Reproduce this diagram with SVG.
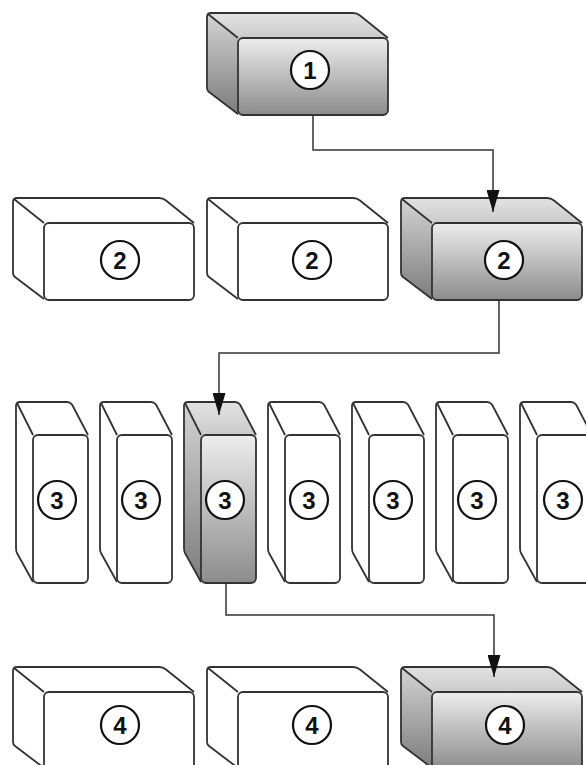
<svg xmlns="http://www.w3.org/2000/svg" width="586" height="765" viewBox="0 0 586 765">
<defs>
<linearGradient id="gFront" x1="0" y1="0" x2="0" y2="1"><stop offset="0" stop-color="#ededed"/><stop offset="1" stop-color="#8c8c8c"/></linearGradient>
<linearGradient id="gSide" x1="0" y1="0" x2="0" y2="1"><stop offset="0" stop-color="#d4d4d4"/><stop offset="1" stop-color="#7c7c7c"/></linearGradient>
<linearGradient id="gTop" x1="0" y1="0" x2="0" y2="1"><stop offset="0" stop-color="#e2e2e2"/><stop offset="1" stop-color="#cbcbcb"/></linearGradient>
<marker id="arr" viewBox="0 0 22 13" refX="22" refY="6.5" markerWidth="22" markerHeight="13" markerUnits="userSpaceOnUse" orient="auto"><path d="M0,0 L22,6.5 L0,13 Z" fill="#111"/></marker>
</defs>
<style>
.top,.side,.front{fill:#fff;stroke:none}
.front{stroke:#333;stroke-width:1.8}
.hl .top{fill:url(#gTop)}
.hl .side{fill:url(#gSide)}
.hl .front{fill:url(#gFront)}
.edge{fill:none;stroke:#333;stroke-width:1.8;stroke-linejoin:round}
.num{fill:#fff;stroke:#111;stroke-width:2.2}
.lbl{font-family:"Liberation Sans Narrow","Liberation Sans",Arial,sans-serif;font-weight:bold;font-size:24px;fill:#111;text-anchor:middle}
.conn{fill:none;stroke:#333;stroke-width:1.5;marker-end:url(#arr)}
</style>

<!-- Row 1 -->
<g id="n1" class="hl" transform="translate(207,13)">
<path class="top" d="M0,0 H150 L181,25 H31 Z"/><path class="side" d="M0,0 L31,25 V102 L0,77 Z"/>
<rect class="front" x="31" y="25" width="150" height="77" rx="5"/>
<path class="edge" d="M31,101 L2,79 Q0,77.5 0,75 V4 Q0,0 4,0 H146 Q150,0 153,2.5 L181,25 M1,1 L31,25"/>
<circle class="num" cx="103" cy="57" r="19"/><text class="lbl" x="103" y="65.5">1</text>
</g>

<!-- Row 2 -->
<g id="n2a" transform="translate(13,198)">
<path class="top" d="M0,0 H150 L181,25 H31 Z"/><path class="side" d="M0,0 L31,25 V102 L0,77 Z"/>
<rect class="front" x="31" y="25" width="150" height="77" rx="5"/>
<path class="edge" d="M31,101 L2,79 Q0,77.5 0,75 V4 Q0,0 4,0 H146 Q150,0 153,2.5 L181,25 M1,1 L31,25"/>
<circle class="num" cx="107" cy="62" r="19"/><text class="lbl" x="107" y="70.5">2</text>
</g>
<g id="n2b" transform="translate(207,198)">
<path class="top" d="M0,0 H150 L181,25 H31 Z"/><path class="side" d="M0,0 L31,25 V102 L0,77 Z"/>
<rect class="front" x="31" y="25" width="150" height="77" rx="5"/>
<path class="edge" d="M31,101 L2,79 Q0,77.5 0,75 V4 Q0,0 4,0 H146 Q150,0 153,2.5 L181,25 M1,1 L31,25"/>
<circle class="num" cx="105" cy="62" r="19"/><text class="lbl" x="105" y="70.5">2</text>
</g>
<g id="n2c" class="hl" transform="translate(401,198)">
<path class="top" d="M0,0 H150 L181,25 H31 Z"/><path class="side" d="M0,0 L31,25 V102 L0,77 Z"/>
<rect class="front" x="31" y="25" width="150" height="77" rx="5"/>
<path class="edge" d="M31,101 L2,79 Q0,77.5 0,75 V4 Q0,0 4,0 H146 Q150,0 153,2.5 L181,25 M1,1 L31,25"/>
<circle class="num" cx="103" cy="62" r="19"/><text class="lbl" x="103" y="70.5">2</text>
</g>

<!-- Row 3 -->
<g id="n3a" transform="translate(16,402)">
<path class="top" d="M0,0 H55 L72,33 H17 Z"/><path class="side" d="M0,0 L17,33 V181 L0,148 Z"/>
<rect class="front" x="17" y="33" width="55" height="148" rx="5"/>
<path class="edge" d="M17,180 L1,151 Q0,149 0,146 V4 Q0,0 4,0 H51 Q54,0 56,2.5 L72,33 M1,1 L17,33"/>
<circle class="num" cx="41" cy="98" r="19"/><text class="lbl" x="41" y="106.5">3</text>
</g>
<g id="n3b" transform="translate(100,402)">
<path class="top" d="M0,0 H55 L72,33 H17 Z"/><path class="side" d="M0,0 L17,33 V181 L0,148 Z"/>
<rect class="front" x="17" y="33" width="55" height="148" rx="5"/>
<path class="edge" d="M17,180 L1,151 Q0,149 0,146 V4 Q0,0 4,0 H51 Q54,0 56,2.5 L72,33 M1,1 L17,33"/>
<circle class="num" cx="41" cy="98" r="19"/><text class="lbl" x="41" y="106.5">3</text>
</g>
<g id="n3c" class="hl" transform="translate(184,402)">
<path class="top" d="M0,0 H55 L72,33 H17 Z"/><path class="side" d="M0,0 L17,33 V181 L0,148 Z"/>
<rect class="front" x="17" y="33" width="55" height="148" rx="5"/>
<path class="edge" d="M17,180 L1,151 Q0,149 0,146 V4 Q0,0 4,0 H51 Q54,0 56,2.5 L72,33 M1,1 L17,33"/>
<circle class="num" cx="41" cy="98" r="19"/><text class="lbl" x="41" y="106.5">3</text>
</g>
<g id="n3d" transform="translate(268,402)">
<path class="top" d="M0,0 H55 L72,33 H17 Z"/><path class="side" d="M0,0 L17,33 V181 L0,148 Z"/>
<rect class="front" x="17" y="33" width="55" height="148" rx="5"/>
<path class="edge" d="M17,180 L1,151 Q0,149 0,146 V4 Q0,0 4,0 H51 Q54,0 56,2.5 L72,33 M1,1 L17,33"/>
<circle class="num" cx="41" cy="98" r="19"/><text class="lbl" x="41" y="106.5">3</text>
</g>
<g id="n3e" transform="translate(352,402)">
<path class="top" d="M0,0 H55 L72,33 H17 Z"/><path class="side" d="M0,0 L17,33 V181 L0,148 Z"/>
<rect class="front" x="17" y="33" width="55" height="148" rx="5"/>
<path class="edge" d="M17,180 L1,151 Q0,149 0,146 V4 Q0,0 4,0 H51 Q54,0 56,2.5 L72,33 M1,1 L17,33"/>
<circle class="num" cx="41" cy="98" r="19"/><text class="lbl" x="41" y="106.5">3</text>
</g>
<g id="n3f" transform="translate(436,402)">
<path class="top" d="M0,0 H55 L72,33 H17 Z"/><path class="side" d="M0,0 L17,33 V181 L0,148 Z"/>
<rect class="front" x="17" y="33" width="55" height="148" rx="5"/>
<path class="edge" d="M17,180 L1,151 Q0,149 0,146 V4 Q0,0 4,0 H51 Q54,0 56,2.5 L72,33 M1,1 L17,33"/>
<circle class="num" cx="41" cy="98" r="19"/><text class="lbl" x="41" y="106.5">3</text>
</g>
<g id="n3g" transform="translate(520,402)">
<path class="top" d="M0,0 H55 L72,33 H17 Z"/><path class="side" d="M0,0 L17,33 V181 L0,148 Z"/>
<rect class="front" x="17" y="33" width="55" height="148" rx="5"/>
<path class="edge" d="M17,180 L1,151 Q0,149 0,146 V4 Q0,0 4,0 H51 Q54,0 56,2.5 L72,33 M1,1 L17,33"/>
<circle class="num" cx="43" cy="98" r="19"/><text class="lbl" x="43" y="106.5">3</text>
</g>

<!-- Row 4 -->
<g id="n4a" transform="translate(13,667)">
<path class="top" d="M0,0 H150 L181,25 H31 Z"/><path class="side" d="M0,0 L31,25 V102 L0,77 Z"/>
<rect class="front" x="31" y="25" width="150" height="77" rx="5"/>
<path class="edge" d="M31,101 L2,79 Q0,77.5 0,75 V4 Q0,0 4,0 H146 Q150,0 153,2.5 L181,25 M1,1 L31,25"/>
<circle class="num" cx="107" cy="58" r="19"/><text class="lbl" x="107" y="66.5">4</text>
</g>
<g id="n4b" transform="translate(207,667)">
<path class="top" d="M0,0 H150 L181,25 H31 Z"/><path class="side" d="M0,0 L31,25 V102 L0,77 Z"/>
<rect class="front" x="31" y="25" width="150" height="77" rx="5"/>
<path class="edge" d="M31,101 L2,79 Q0,77.5 0,75 V4 Q0,0 4,0 H146 Q150,0 153,2.5 L181,25 M1,1 L31,25"/>
<circle class="num" cx="105" cy="58" r="19"/><text class="lbl" x="105" y="66.5">4</text>
</g>
<g id="n4c" class="hl" transform="translate(401,667)">
<path class="top" d="M0,0 H150 L181,25 H31 Z"/><path class="side" d="M0,0 L31,25 V102 L0,77 Z"/>
<rect class="front" x="31" y="25" width="150" height="77" rx="5"/>
<path class="edge" d="M31,101 L2,79 Q0,77.5 0,75 V4 Q0,0 4,0 H146 Q150,0 153,2.5 L181,25 M1,1 L31,25"/>
<circle class="num" cx="104" cy="58" r="19"/><text class="lbl" x="104" y="66.5">4</text>
</g>

<g id="connectors">
<path class="conn" d="M313,115 V150 H493 V212"/>
<path class="conn" d="M499,300 V353 H219 V415"/>
<path class="conn" d="M226,583 V615 H494 V677"/>
</g>
</svg>
